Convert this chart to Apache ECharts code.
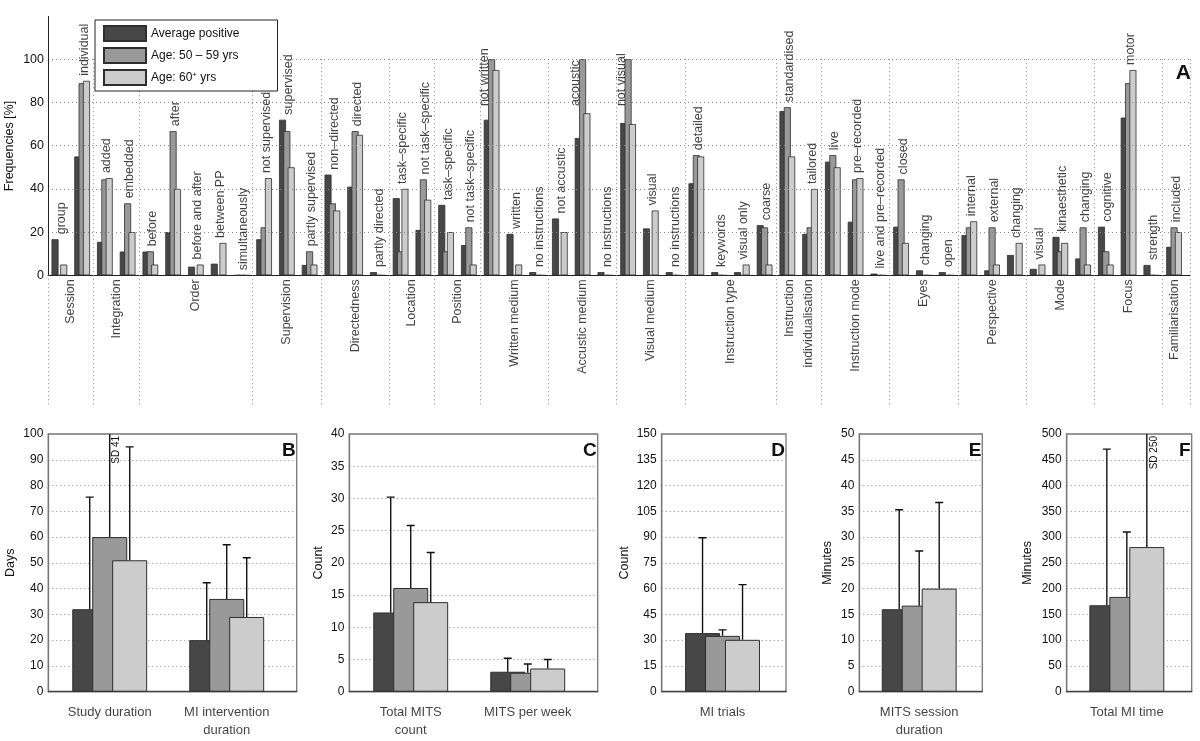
<!DOCTYPE html>
<html>
<head>
<meta charset="utf-8">
<script src="https://cdn.jsdelivr.net/npm/echarts@6/dist/echarts.min.js"></script>
<style>
html,body{margin:0;padding:0;background:#fff;}
#chart{width:1200px;height:741px;}
</style>
</head>
<body>
<div id="chart"></div>
<script>
// ---------------- DATA ----------------
const seriesNames = ['Average positive', 'Age: 50 – 59 yrs', 'Age: 60+ yrs'];

// Panel A
const groupNames = ['Session','Integration','Order','Supervision','Directedness','Location','Position','Written medium','Accustic medium','Visual medium','Instruction type','Instruction\nindividualisation','Instruction mode','Eyes','Perspective','Mode','Focus','Familiarisation'];
const groupSizes = [2,2,5,3,3,2,2,3,3,3,4,2,3,3,3,3,3,1];
const subCategories = ['group','individual','added','embedded','before','after','before and after','between PP','simultaneously','not supervised','supervised','partly supervised','non–directed','directed','partly directed','task–specific','not task–specific','task–specific','not task–specific','not written','written','no instructions','not accustic','acoustic','no instructions','not visual','visual','no instructions','detailed','keywords','visual only','coarse','standardised','tailored','live','pre–recorded','live and pre–recorded','closed','changing','open','internal','external','changing','visual','kinaesthetic','changing','cognitive','motor','strength','included'];
const freqAvg = [16.7,55,15.5,11,11,20,4,5.4,0,16.7,72,4.8,46.6,41,1.5,35.7,21,32.6,14,72,19.2,1.5,26.3,63.5,1.5,70.5,21.7,1.5,42.6,1.5,1.5,23.2,76,19.2,52.6,24.8,0.8,22.5,2.3,1.5,18.6,2.3,9.4,3,17.8,7.8,22.5,73,4.8,13.2];
const freqAge50 = [0,88.9,44.4,33.3,11.1,66.7,0,0,0,22.2,66.7,11.1,33.3,66.7,0,11.1,44.4,11.1,22.2,100,0,0,0,100,0,100,0,0,55.6,0,0,22.2,77.8,22.2,55.6,44.4,0,44.4,0,0,22.2,22.2,0,0,11.1,22.2,11.1,88.9,0,22.2];
const freqAge60 = [5,90,45,20,5,40,5,15,0,45,50,5,30,65,0,40,35,20,5,95,5,0,20,75,0,70,30,0,55,0,5,5,55,40,50,45,0,15,0,0,25,5,15,5,15,5,5,95,0,20];
const freqTicks = [0,20,40,60,80,100];

// Panel B
const bCats = ['Study duration','MI intervention\nduration'];
const bAvg = [32,20], bAge50 = [60,36], bAge60 = [51,29];
const bSdAvg = [43.5,22.3], bSdAge50 = [41,21], bSdAge60 = [44,23];
// Panel C
const cCats = ['Total MITS\ncount','MITS per week'];
const cAvg = [12.3,3.1], cAge50 = [16.1,2.95], cAge60 = [13.9,3.6];
const cSdAvg = [17.9,2.1], cSdAge50 = [9.7,1.35], cSdAge60 = [7.7,1.4];
// Panel D
const dCats = ['MI trials'];
const dAvg = [34.1], dAge50 = [32.5], dAge60 = [30.2];
const dSdAvg = [55.5], dSdAge50 = [3.5], dSdAge60 = [32.1];
// Panel E
const eCats = ['MITS session\nduration'];
const eAvg = [16.0], eAge50 = [16.7], eAge60 = [20.0];
const eSdAvg = [19.3], eSdAge50 = [10.6], eSdAge60 = [16.7];
// Panel F
const fCats = ['Total MI time'];
const fAvg = [167.7], fAge50 = [183.9], fAge60 = [280.6];
const fSdAvg = [303], fSdAge50 = [126], fSdAge60 = [250];

// ---------------- STYLE / LAYOUT ----------------
const FONT = 'Liberation Sans, Arial, sans-serif';
const colors = ['#474747', '#999999', '#cccccc'];
const barBorder = '#2e2e2e';
const gridDot = {color: '#8a8a8a', type: [1, 3], width: 1};
const LABEL_CAP = 100;      // labels of full-height bars are lowered
const CAPPED_LEVEL = 76;    // level where those lowered labels start

const panels = [
  {letter:'B', cats:bCats, vals:[bAvg,bAge50,bAge60], sds:[bSdAvg,bSdAge50,bSdAge60], ymax:100, interval:10, yname:'Days', left:48.3, width:248.4, xmin:0.475, nameGap:31},
  {letter:'C', cats:cCats, vals:[cAvg,cAge50,cAge60], sds:[cSdAvg,cSdAge50,cSdAge60], ymax:40, interval:5, yname:'Count', left:349.3, width:248.4, xmin:0.475, nameGap:24},
  {letter:'D', cats:dCats, vals:[dAvg,dAge50,dAge60], sds:[dSdAvg,dSdAge50,dSdAge60], ymax:150, interval:15, yname:'Count', left:661.7, width:124.3, xmin:0.48, nameGap:31},
  {letter:'E', cats:eCats, vals:[eAvg,eAge50,eAge60], sds:[eSdAvg,eSdAge50,eSdAge60], ymax:50, interval:5, yname:'Minutes', left:859.3, width:123, xmin:0.488, nameGap:25},
  {letter:'F', cats:fCats, vals:[fAvg,fAge50,fAge60], sds:[fSdAvg,fSdAge50,fSdAge60], ymax:500, interval:50, yname:'Minutes', left:1066.7, width:125, xmin:0.486, nameGap:33}
];
const PX_PER_UNIT = 117;
const PANEL_TOP = 434, PANEL_H = 257.7;

// ---------------- BUILD ----------------
const grids = [{left:48, right:10, top:16, bottom:336}];
const xAxes = [{
  type:'value', gridIndex:0, min:0.5, max:50.7,
  axisLine:{show:true, onZero:true, lineStyle:{color:'#222', width:1}},
  axisLabel:{show:false}, axisTick:{show:false}, splitLine:{show:false}
}];
const yAxes = [{
  type:'value', gridIndex:0, min:-60, max:120, interval:20,
  axisLine:{show:false}, axisTick:{show:false}, splitLine:{show:false},
  axisLabel:{fontFamily:FONT, fontSize:12.5, color:'#111', margin:4,
    formatter: v => freqTicks.indexOf(v) >= 0 ? String(v) : ''}
}];
const series = [];

// Top bars
const topVals = [freqAvg, freqAge50, freqAge60];
topVals.forEach((arr, k) => {
  series.push({
    type:'bar', name:seriesNames[k], xAxisIndex:0, yAxisIndex:0,
    barWidth:7, barGap:'-38%',
    itemStyle:{color:colors[k], borderColor:barBorder, borderWidth:0.8},
    data: arr.map((v, i) => [i + 1, v])
  });
});

// group boundaries/centers
const boundaries = [0.5];
const centers = [];
let start = 1;
groupSizes.forEach(n => {
  centers.push(start + (n - 1) / 2);
  start += n;
  boundaries.push(start - 0.5);
});
boundaries[boundaries.length - 1] = 50.7; // right end of axis

const markData = [];
freqTicks.filter(v => v > 0).forEach(v => markData.push({yAxis:v, lineStyle:gridDot}));
boundaries.forEach(b => markData.push([{coord:[b, 100], lineStyle:gridDot}, {coord:[b, -60]}]));
markData.push([{coord:[0.5, 0], lineStyle:{color:'#222', width:1, type:'solid'}}, {coord:[0.5, 120]}]);

// subcategory labels (label offset is in the rotated text frame: [along text, across text])
series.push({
  type:'scatter', xAxisIndex:0, yAxisIndex:0, symbolSize:0, silent:true, z:5,
  data: subCategories.map((s, i) => {
    const top = Math.max(freqAvg[i], freqAge50[i], freqAge60[i]);
    const capped = top >= LABEL_CAP;
    return {name:s, value:[i + 1, capped ? CAPPED_LEVEL : top],
      label: capped ? {offset:[0, -7]} : undefined};
  }),
  label:{show:true, formatter:'{b}', position:'top', distance:5, rotate:90, align:'left', verticalAlign:'middle',
    offset:[0, 2], fontFamily:FONT, fontSize:12.5, color:'#111'}
});
// group labels + grid lines
series.push({
  type:'scatter', xAxisIndex:0, yAxisIndex:0, symbolSize:0, silent:true, z:5,
  data: groupNames.map((g, k) => ({name:g, value:[centers[k], 0]})),
  label:{show:true, formatter:'{b}', position:'bottom', distance:4, rotate:90, align:'right', verticalAlign:'middle',
    fontFamily:FONT, fontSize:12.5, lineHeight:19, color:'#111'},
  markLine:{silent:true, symbol:['none','none'], label:{show:false}, animation:false, data:markData}
});

const graphics = [
  {type:'text', x:10, y:146, rotation:Math.PI/2, style:{text:'Frequencies [%]', font:'12.5px ' + FONT, fill:'#111', align:'center', verticalAlign:'middle'}},
  {type:'text', x:1191, y:63, style:{text:'A', font:'bold 21px ' + FONT, fill:'#111', align:'right', verticalAlign:'top'}}
];

panels.forEach((p, pi) => {
  const gi = pi + 1;
  grids.push({left:p.left, top:PANEL_TOP, width:p.width, height:PANEL_H, show:true, borderColor:'#777', borderWidth:1.3});
  xAxes.push({type:'value', gridIndex:gi, min:p.xmin, max:p.xmin + p.width / PX_PER_UNIT,
    axisLine:{show:true, lineStyle:{color:'#444', width:1.3}}, axisLabel:{show:false}, axisTick:{show:false}, splitLine:{show:false}});
  yAxes.push({type:'value', gridIndex:gi, min:0, max:p.ymax, interval:p.interval,
    axisLine:{show:true, lineStyle:{color:'#777', width:1.3}}, axisTick:{show:false},
    splitLine:{show:true, lineStyle:gridDot},
    axisLabel:{fontFamily:FONT, fontSize:12, color:'#111', margin:5},
    name:p.yname, nameLocation:'middle', nameGap:p.nameGap,
    nameTextStyle:{fontFamily:FONT, fontSize:12.5, color:'#111'}});
  p.vals.forEach((arr, k) => {
    series.push({type:'bar', name:seriesNames[k], xAxisIndex:gi, yAxisIndex:gi,
      barWidth:35, barGap:'-43%',
      itemStyle:{color:colors[k], borderColor:barBorder, borderWidth:1},
      data: arr.map((v, i) => [i + 1, v])});
  });
  const errData = [];
  p.vals.forEach((arr, k) => arr.forEach((v, i) => errData.push([i + 1, v, p.sds[k][i], k])));
  const ymax = p.ymax;
  series.push({type:'custom', xAxisIndex:gi, yAxisIndex:gi, clip:true, silent:true, z:4,
    encode:{x:0, y:1},
    data: errData,
    renderItem: (params, api) => {
      const x = api.value(0), m = api.value(1), sd = api.value(2), k = api.value(3);
      const off = (k - 1) * 20;
      const p0 = api.coord([x, m]);
      const p1 = api.coord([x, m + sd]);
      const cx = p0[0] + off;
      const st = {stroke:'#111', lineWidth:1.4};
      const children = [
        {type:'line', shape:{x1:cx, y1:p0[1], x2:cx, y2:p1[1]}, style:st},
        {type:'line', shape:{x1:cx - 4, y1:p1[1], x2:cx + 4, y2:p1[1]}, style:st}
      ];
      if (m + sd > ymax) {
        const pt = api.coord([x, ymax]);
        children.push({type:'text', x:cx + 7, y:pt[1] + 2, rotation:Math.PI/2,
          style:{text:'SD ' + sd, font:'10px ' + FONT, fill:'#111', align:'right', verticalAlign:'middle'}});
      }
      return {type:'group', children:children};
    }});
  series.push({type:'scatter', xAxisIndex:gi, yAxisIndex:gi, symbolSize:0, silent:true,
    data: p.cats.map((c, i) => ({name:c, value:[i + 1, 0]})),
    label:{show:true, formatter:'{b}', position:'bottom', distance:12, align:'center', verticalAlign:'top',
      fontFamily:FONT, fontSize:13, lineHeight:18, color:'#111'}});
  graphics.push({type:'text', x:p.left + p.width - 1, y:PANEL_TOP + 7,
    style:{text:p.letter, font:'bold 19px ' + FONT, fill:'#111', align:'right', verticalAlign:'top'}});
});

const chart = echarts.init(document.getElementById('chart'), null, {renderer:'canvas'});
chart.setOption({
  animation:false,
  backgroundColor:'#fff',
  textStyle:{fontFamily:FONT},
  grid:grids, xAxis:xAxes, yAxis:yAxes, series:series, graphic:graphics,
  legend:{
    data:seriesNames, orient:'vertical', left:95, top:20,
    itemWidth:42, itemHeight:15, itemGap:5, icon:'rect',
    padding:[5, 38, 5, 8], backgroundColor:'#fff', borderColor:'#222', borderWidth:1,
    z:20,
    formatter: n => n === 'Age: 60+ yrs' ? 'Age: 60{sup|+} yrs' : n,
    textStyle:{fontFamily:FONT, fontSize:12, lineHeight:15, color:'#111',
      rich:{sup:{fontFamily:FONT, fontSize:8, lineHeight:15, color:'#111', padding:[0, 0, 6, 0]}}}
  }
});
</script>
</body>
</html>
